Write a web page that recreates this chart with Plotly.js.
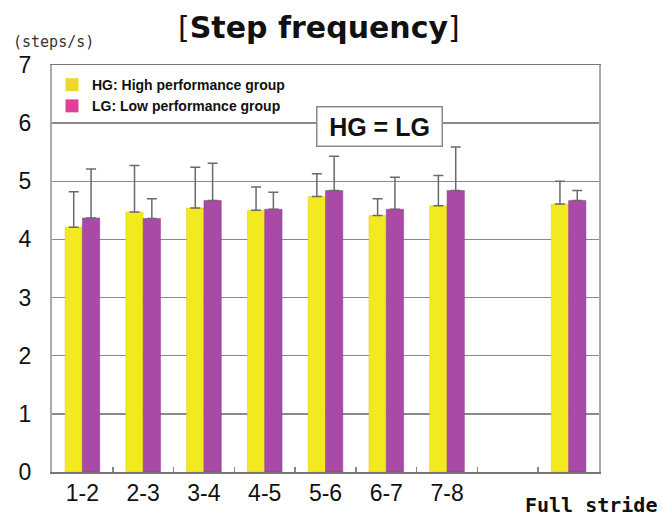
<!DOCTYPE html>
<html>
<head>
<meta charset="utf-8">
<script src="https://cdn.plot.ly/plotly-3.0.1.min.js"></script>
<style>html,body{margin:0;padding:0;background:#fff;}#chart{width:663px;height:518px;}</style>
</head>
<body>
<div id="chart"></div>
<script>
// Categories (the " " slot is the empty gap before the full-stride group)
const categories = ["1-2", "2-3", "3-4", "4-5", "5-6", "6-7", "7-8", " ", "Full stride"];
const tickLabels = ["1-2", "2-3", "3-4", "4-5", "5-6", "6-7", "7-8", "", ""];
// HG: High performance group — mean step frequency (steps/s) and SD
const hgMean = [4.21, 4.47, 4.54, 4.50, 4.74, 4.41, 4.58, null, 4.61];
const hgSD   = [0.61, 0.80, 0.70, 0.40, 0.39, 0.29, 0.52, null, 0.39];
// LG: Low performance group
const lgMean = [4.37, 4.36, 4.67, 4.52, 4.84, 4.52, 4.84, null, 4.67];
const lgSD   = [0.84, 0.34, 0.64, 0.29, 0.59, 0.55, 0.75, null, 0.17];
const hgName = "HG: High performance group";
const lgName = "LG: Low performance group";

const errStyle = {type: "data", symmetric: false, visible: true, color: "#6a6a6a", thickness: 1.5, width: 5};

const traces = [
  {type: "bar", x: categories, y: hgMean, name: hgName, showlegend: false,
   marker: {color: "#f2ea1e", line: {color: "#d8cf10", width: 0.5}},
   error_y: Object.assign({array: hgSD, arrayminus: hgSD.map(v => 0)}, errStyle), hoverinfo: "x+y"},
  {type: "bar", x: categories, y: lgMean, name: lgName, showlegend: false,
   marker: {color: "#a84aa6", line: {color: "#8e3a8c", width: 0.5}},
   error_y: Object.assign({array: lgSD, arrayminus: lgSD.map(v => 0)}, errStyle), hoverinfo: "x+y"},
  // legend entries
  {type: "scatter", mode: "markers", x: [null], y: [null], name: hgName,
   marker: {symbol: "square", size: 13, color: "#f0d62a"}},
  {type: "scatter", mode: "markers", x: [null], y: [null], name: lgName,
   marker: {symbol: "square", size: 13, color: "#e0409c"}}
];

const layout = {
  width: 663, height: 518,
  margin: {l: 52, r: 64, t: 65, b: 46, pad: 0},
  paper_bgcolor: "#ffffff", plot_bgcolor: "#ffffff",
  barmode: "group", bargap: 0.43, bargroupgap: 0,
  showlegend: true,
  legend: {x: 0.0, y: 0.99, xanchor: "left", yanchor: "top", bgcolor: "rgba(0,0,0,0)",
           font: {family: "Liberation Sans, Arial, sans-serif", size: 14, color: "#111", weight: "bold"},
           itemwidth: 30, tracegroupgap: 0},
  title: {
    text: '<span style="font-weight:normal">[</span>Step frequency<span style="font-weight:normal">]</span>',
    font: {family: "DejaVu Sans, sans-serif", size: 30, color: "#111", weight: "bold"},
    x: 0.481, xref: "container", xanchor: "center",
    y: 0.946, yref: "container", yanchor: "middle"
  },
  xaxis: {
    type: "category", categoryorder: "array", categoryarray: categories,
    tickvals: categories, ticktext: tickLabels, tickson: "boundaries",
    ticks: "inside", ticklen: 5, tickcolor: "#888", tickwidth: 1.5,
    showline: true, linecolor: "#777", linewidth: 1.5, mirror: true,
    showgrid: false, zeroline: false, range: [-0.5, 8.5],
    tickfont: {family: "Liberation Sans Narrow, Liberation Sans, Arial, sans-serif", size: 23, color: "#111"},
    fixedrange: true
  },
  yaxis: {
    range: [0, 7], dtick: 1, tick0: 0,
    showgrid: true, gridcolor: "#8a8a8a", gridwidth: 1.5,
    showline: true, linecolor: "#aaaaaa", linewidth: 2, mirror: true,
    zeroline: false, ticks: "", ticklabelstandoff: 14,
    tickfont: {family: "Liberation Sans Narrow, Liberation Sans, Arial, sans-serif", size: 23, color: "#111"},
    fixedrange: true
  },
  annotations: [
    {text: "(steps/s)", xref: "paper", yref: "paper", x: 0.002, y: 1.0565, xanchor: "center", yanchor: "middle",
     showarrow: false, font: {family: "DejaVu Sans Mono, monospace", size: 15, color: "#333"}},
    {text: "<b>HG = LG</b>", xref: "paper", yref: "paper", x: 0.598, y: 0.848, xanchor: "center", yanchor: "middle",
     showarrow: false, bgcolor: "#ffffff", bordercolor: "#8a8a8a", borderwidth: 1.5, borderpad: 2,
     width: 120, height: 34,
     font: {family: "Liberation Sans, Arial, sans-serif", size: 25, color: "#111"}},
    {text: "Full stride", xref: "paper", yref: "paper", x: 0.985, y: -0.081, xanchor: "center", yanchor: "middle",
     showarrow: false, font: {family: "DejaVu Sans Mono, monospace", size: 20, color: "#111", weight: "bold"}}
  ]
};

Plotly.newPlot("chart", traces, layout, {displayModeBar: false, staticPlot: true});
</script>
</body>
</html>
